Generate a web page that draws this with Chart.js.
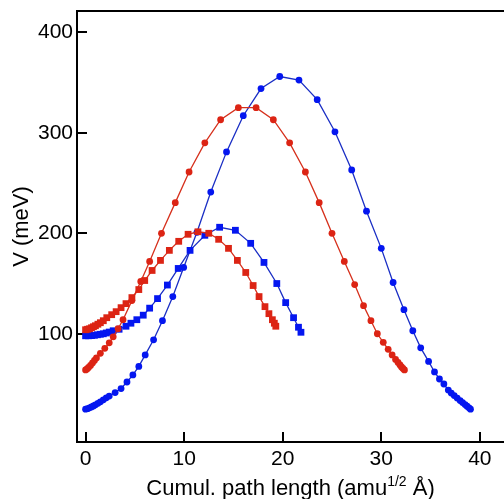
<!DOCTYPE html>
<html>
<head>
<meta charset="utf-8">
<script src="https://cdn.jsdelivr.net/npm/chart.js@4/dist/chart.umd.min.js"></script>
<style>
  html, body { margin: 0; padding: 0; background: #fff; overflow: hidden; }
</style>
</head>
<body>
<canvas id="myChart" width="504" height="499"></canvas>
<script>
//-------------------------------------------------- data
// red circles (large hump)
const redCircleX = [0, 0.15, 0.3, 0.5, 0.7, 0.9, 1.1, 1.5, 1.95, 2.4, 2.8, 3.3, 3.8, 4.7, 5.6, 6.5, 7.7, 9.1, 10.5, 12.1, 13.7, 15.5, 17.3, 19.05, 20.7, 22.3, 23.7, 25.0, 26.25, 27.3, 28.2, 28.95, 29.6, 30.2, 30.7, 31.1, 31.45, 31.7, 31.9, 32.05, 32.2, 32.35];
const redCircleY = [64, 65, 66.5, 68.5, 71, 73.5, 76, 80.5, 85.5, 91, 97, 105, 114, 133, 152, 172, 200, 230.5, 261, 290, 313, 325, 325, 313, 290, 261, 230.5, 200, 172, 149, 128, 113, 100, 91.5, 84.5, 79, 74.5, 71.5, 69, 67, 65.5, 64];

// blue circles (large hump)
const blueCircleX = [0, 0.2, 0.4, 0.6, 0.8, 1.0, 1.25, 1.5, 1.8, 2.1, 2.4, 3.0, 3.6, 4.2, 4.8, 5.4, 6.05, 6.9, 7.8, 8.85, 9.95, 11.3, 12.7, 14.3, 16.0, 17.8, 19.7, 21.65, 23.5, 25.3, 27.0, 28.5, 30.0, 31.2, 32.3, 33.2, 34.0, 34.8, 35.4, 35.9, 36.35, 36.8, 37.1, 37.4, 37.7, 38.0, 38.25, 38.5, 38.7, 38.9, 39.05];
const blueCircleY = [25, 25.5, 26.3, 27.2, 28.2, 29.3, 30.8, 32.3, 34.3, 36.3, 38, 41.5, 45.5, 52, 59, 67.5, 79, 94, 113, 137, 166, 201, 241, 281, 317, 344, 356, 352.5, 333, 301, 263, 222, 185, 151, 124, 103, 86, 72.5, 62, 55, 50, 44, 41, 38.5, 36, 33.5, 31.5, 29.5, 28, 26.3, 25];

// red squares (small hump)
const redSquareX = [0, 0.2, 0.4, 0.6, 0.8, 1.0, 1.25, 1.5, 1.8, 2.15, 2.65, 3.1, 3.6, 4.1, 4.7, 5.4, 6.0, 6.75, 7.6, 8.5, 9.45, 10.4, 11.4, 12.5, 13.5, 14.5, 15.4, 16.25, 17.0, 17.6, 18.2, 18.6, 18.95, 19.15, 19.3];
const redSquareY = [104, 104.5, 105, 106, 107, 108, 109.5, 111, 113, 116, 119, 122, 126, 130, 136, 144, 153, 163, 173, 183, 192, 199, 201.5, 200, 194, 185, 173, 161, 148, 137, 127, 120, 114, 110.5, 107.5];

// blue squares (small hump)
const blueSquareX = [0, 0.3, 0.6, 0.9, 1.2, 1.5, 1.8, 2.1, 2.4, 2.8, 3.4, 4.1, 4.6, 5.2, 5.85, 6.5, 7.3, 8.3, 9.4, 10.6, 12.1, 13.6, 15.2, 16.75, 18.1, 19.4, 20.3, 21.1, 21.6, 21.85];
const blueSquareY = [98, 98, 98.2, 98.5, 99, 99.5, 100, 100.8, 101.7, 103, 104.5, 107.5, 110.5, 114, 118.5, 125.5, 135, 148.5, 165, 183, 198, 206, 203, 190, 171, 150, 131, 116, 106.5, 101.5];

const xTickValues = [0, 10, 20, 30, 40];
const yTickValues = [100, 200, 300, 400];
//^^^^^^^^^^^^^^^^^^^^^^^^^^^^^^^^^^^^^^^^^^^^^^^^^^ data

const FONT = "'Liberation Sans', Arial, Helvetica, sans-serif";
const RED = '#dc2414', RED_LINE = '#d6301c';
const BLUE = '#0416f0', BLUE_LINE = '#1a2ec4';

function pts(xs, ys) {
    return xs.map((x, i) => ({ x: x, y: ys[i] }));
}

function series(label, xs, ys, marker, line, style, radius, order) {
    return {
        label: label,
        data: pts(xs, ys),
        showLine: true,
        borderColor: line,
        borderWidth: 1.3,
        backgroundColor: marker,
        pointBackgroundColor: marker,
        pointBorderColor: marker,
        pointBorderWidth: 0,
        pointStyle: style,
        pointRadius: radius,
        tension: 0,
        order: order
    };
}

// inner ticks + top frame line, drawn under the data
const frame = {
    id: 'frame',
    beforeDatasetsDraw(chart) {
        const { ctx, chartArea, scales } = chart;
        ctx.save();
        ctx.strokeStyle = '#000';
        ctx.lineWidth = 2;
        ctx.beginPath();
        scales.x.ticks.forEach(t => {
            const px = Math.round(scales.x.getPixelForValue(t.value));
            ctx.moveTo(px, chartArea.bottom);
            ctx.lineTo(px, chartArea.bottom - 10);
        });
        scales.y.ticks.forEach(t => {
            const py = Math.round(scales.y.getPixelForValue(t.value));
            ctx.moveTo(chartArea.left, py);
            ctx.lineTo(chartArea.left + 10, py);
        });
        ctx.moveTo(chartArea.left - 1, chartArea.top);
        ctx.lineTo(chart.width, chartArea.top);
        ctx.stroke();
        ctx.restore();
    },
    // x title with superscript
    afterDraw(chart) {
        const { ctx, chartArea } = chart;
        const a = 'Cumul. path length (amu', s = '1/2', b = ' Å)';
        ctx.save();
        ctx.fillStyle = '#000';
        ctx.textBaseline = 'alphabetic';
        ctx.textAlign = 'left';
        ctx.font = '22px ' + FONT;
        const wa = ctx.measureText(a).width, wb = ctx.measureText(b).width;
        ctx.font = '14px ' + FONT;
        const ws = ctx.measureText(s).width;
        let x = (chartArea.left + chartArea.right) / 2 - (wa + ws + wb) / 2;
        const base = 495;
        ctx.font = '22px ' + FONT;
        ctx.fillText(a, x, base);
        x += wa;
        ctx.font = '14px ' + FONT;
        ctx.fillText(s, x, base - 9);
        x += ws;
        ctx.font = '22px ' + FONT;
        ctx.fillText(b, x, base);
        ctx.restore();
    }
};

new Chart(document.getElementById('myChart'), {
    type: 'scatter',
    data: {
        datasets: [
            series('red squares', redSquareX, redSquareY, RED, RED_LINE, 'rect', 4.8, 1),
            series('red circles', redCircleX, redCircleY, RED, RED_LINE, 'circle', 3.4, 2),
            series('blue squares', blueSquareX, blueSquareY, BLUE, BLUE_LINE, 'rect', 4.8, 3),
            series('blue circles', blueCircleX, blueCircleY, BLUE, BLUE_LINE, 'circle', 3.4, 4)
        ]
    },
    options: {
        responsive: false,
        animation: false,
        devicePixelRatio: 1,
        layout: { autoPadding: false, padding: { top: 11, right: 0, bottom: 0, left: 0 } },
        plugins: { legend: { display: false }, tooltip: { enabled: false } },
        scales: {
            x: {
                type: 'linear',
                position: 'bottom',
                min: -0.87,
                max: 42.45,
                grid: { display: false, drawTicks: false },
                border: { display: true, width: 2, color: '#000' },
                ticks: { color: '#000', padding: 5, maxRotation: 0, font: { family: FONT, size: 21 } },
                afterBuildTicks: s => { s.ticks = xTickValues.map(v => ({ value: v })); },
                afterFit: s => { s.height = 57; s.paddingLeft = 0; s.paddingRight = 0; }
            },
            y: {
                type: 'linear',
                position: 'left',
                min: -7.7,
                max: 421.2,
                grid: { display: false, drawTicks: false },
                border: { display: true, width: 2, color: '#000' },
                ticks: { color: '#000', padding: 4, font: { family: FONT, size: 21 } },
                afterBuildTicks: s => { s.ticks = yTickValues.map(v => ({ value: v })); },
                afterFit: s => { s.width = 77; s.paddingTop = 0; s.paddingBottom = 0; },
                title: { display: true, text: 'V (meV)', color: '#000', padding: { top: 9, bottom: 0 }, font: { family: FONT, size: 22 } }
            }
        }
    },
    plugins: [frame]
});
</script>
</body>
</html>
